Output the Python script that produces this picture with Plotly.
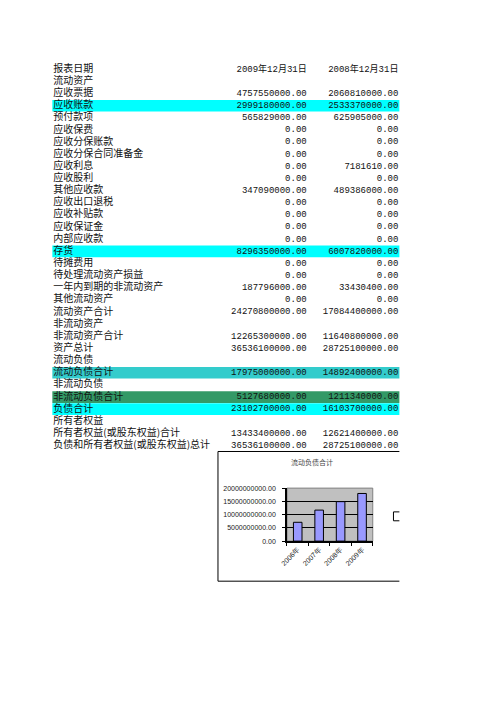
import plotly.graph_objects as go

# balance sheet rows (None = section header, no values)
row_labels = ["报表日期", "流动资产", "应收票据", "应收账款", "预付款项", "应收保费",
              "应收分保账款", "应收分保合同准备金", "应收利息", "应收股利", "其他应收款",
              "应收出口退税", "应收补贴款", "应收保证金", "内部应收款", "存货", "待摊费用",
              "待处理流动资产损益", "一年内到期的非流动资产", "其他流动资产", "流动资产合计",
              "非流动资产", "非流动资产合计", "资产总计", "流动负债", "流动负债合计",
              "非流动负债", "非流动负债合计", "负债合计", "所有者权益",
              "所有者权益(或股东权益)合计", "负债和所有者权益(或股东权益)总计"]
col_headers = ["2009年12月31日", "2008年12月31日"]
values_2009 = [None, None, 4757550000, 2999180000, 565829000, 0, 0, 0, 0, 0, 347090000,
               0, 0, 0, 0, 8296350000, 0, 0, 187796000, 0, 24270800000,
               None, 12265300000, 36536100000, None, 17975000000,
               None, 5127680000, 23102700000, None, 13433400000, 36536100000]
values_2008 = [None, None, 2060810000, 2533370000, 625905000, 0, 0, 0, 7181610, 0, 489386000,
               0, 0, 0, 0, 6007820000, 0, 0, 33430400, 0, 17084400000,
               None, 11640800000, 28725100000, None, 14892400000,
               None, 1211340000, 16103700000, None, 12621400000, 28725100000]

# chart: 流动负债合计 by year
chart_title = "流动负债合计"
years = ["2006年", "2007年", "2008年", "2009年"]
current_liab = [7100000000, 11700000000, 14892400000, 17975000000]

highlight = {"应收账款": "#00FFFF", "存货": "#00FFFF", "流动负债合计": "#33CCCC",
             "非流动负债合计": "#339966", "负债合计": "#00FFFF"}

W, H = 496, 702
row_px, first_row_px = 12.26, 66
label_x, col1_x, col2_x = 47, 304, 397

def fmt(v):
    return "" if v is None else f"{v:.2f}"

rows = list(range(len(row_labels)))
txt1 = [col_headers[0]] + [fmt(v) for v in values_2009[1:]]
txt2 = [col_headers[1]] + [fmt(v) for v in values_2008[1:]]

fig = go.Figure()
cjk = "Noto Sans CJK SC"
num_font = "Liberation Mono, Noto Sans CJK SC"
fig.add_trace(go.Scatter(x=[label_x] * len(rows), y=rows, text=row_labels, mode="text",
                         marker=dict(size=0), textposition="middle right",
                         textfont=dict(family=cjk, size=10, color="#111"),
                         xaxis="x2", yaxis="y2", hoverinfo="skip"))
fig.add_trace(go.Scatter(x=[col1_x] * len(rows), y=rows, text=txt1, mode="text",
                         marker=dict(size=0), textposition="middle left",
                         textfont=dict(family=num_font, size=9, color="#111"),
                         xaxis="x2", yaxis="y2", hoverinfo="skip"))
fig.add_trace(go.Scatter(x=[col2_x] * len(rows), y=rows, text=txt2, mode="text",
                         marker=dict(size=0), textposition="middle left",
                         textfont=dict(family=num_font, size=9, color="#111"),
                         xaxis="x2", yaxis="y2", hoverinfo="skip"))

fig.add_trace(go.Bar(x=years, y=current_liab, marker=dict(color="#9999FF", line=dict(color="black", width=1)),
                     width=0.4, hoverinfo="skip"))

for i, lab in enumerate(row_labels):
    if lab in highlight:
        fig.add_shape(type="rect", xref="paper", yref="y2", x0=46 / W, x1=398 / W,
                      y0=i - 0.48, y1=i + 0.48, fillcolor=highlight[lab], line_width=0, layer="below")

# chart frame (right side clipped in the sheet) and plot area background
fig.add_shape(type="path", xref="paper", yref="paper", line=dict(color="black", width=1),
              path=f"M {398/W} {1-452/H} L {214/W} {1-452/H} L {214/W} {1-583/H} L {398/W} {1-583/H}")
fig.add_shape(type="path", xref="paper", yref="paper", line=dict(color="black", width=1),
              path=f"M {398/W} {1-513/H} L {392/W} {1-513/H} L {392/W} {1-522/H} L {398/W} {1-522/H}")
fig.add_shape(type="rect", xref="x domain", yref="y domain", x0=0, x1=1, y0=0, y1=1,
              fillcolor="#C0C0C0", line=dict(color="#808080", width=1), layer="below")
fig.add_annotation(text=chart_title, xref="paper", yref="paper", x=333 / W, y=1 - 463 / H,
                   showarrow=False, font=dict(family=cjk, size=7, color="#444"))

top_val = -first_row_px / row_px
fig.update_layout(
    width=W, height=H, margin=dict(l=0, r=0, t=0, b=0),
    paper_bgcolor="white", plot_bgcolor="rgba(0,0,0,0)", showlegend=False,
    xaxis2=dict(domain=[0, 1], range=[0, W], visible=False, anchor="y2", fixedrange=True),
    yaxis2=dict(domain=[0, 1], range=[top_val + H / row_px, top_val], visible=False, anchor="x2", fixedrange=True),
    xaxis=dict(domain=[284 / W, 371 / W], anchor="y", tickangle=-45, showline=True, linecolor="black",
               linewidth=1.5, ticks="outside", tickson="boundaries", ticklen=3, tickcolor="black",
               tickfont=dict(family="Liberation Sans", size=7, color="#222"), showgrid=False),
    yaxis=dict(domain=[1 - 542.5 / H, 1 - 489 / H], anchor="x", range=[0, 2e10], dtick=5e9,
               tickformat=".2f", showline=True, linecolor="black", linewidth=1.5, showgrid=True,
               gridcolor="black", gridwidth=1, zeroline=False, ticks="outside", ticklen=3,
               tickcolor="black", ticklabelstandoff=5,
               tickfont=dict(family="Liberation Sans", size=7, color="#222")),
)

fig.write_html("out.html", config={"displayModeBar": False})
# drop the browser's default body margin so the figure sits at the page corner
with open("out.html", encoding="utf-8") as f:
    page = f.read()
page = page.replace("<body>", '<body style="margin:0;overflow:hidden">', 1)
with open("out.html", "w", encoding="utf-8") as f:
    f.write(page)
